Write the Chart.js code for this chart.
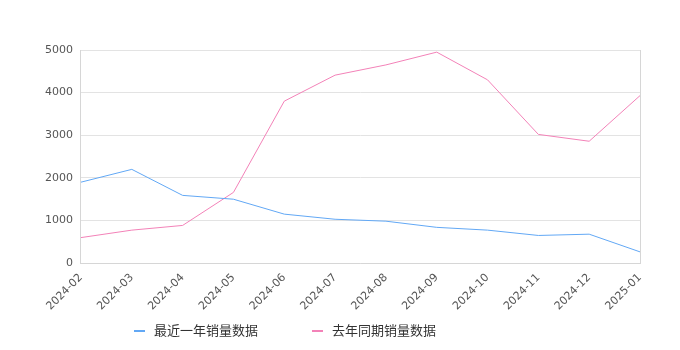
<!DOCTYPE html>
<html>
<head>
<meta charset="utf-8">
<script src="https://cdn.jsdelivr.net/npm/chart.js@4/dist/chart.umd.min.js"></script>
<style>
    html, body { margin: 0; padding: 0; background: #fff; }
    #wrap { width: 680px; height: 350px; }
</style>
</head>
<body>
<div id="wrap"><canvas id="salesChart"></canvas></div>
<script>
const months = ['2024-02', '2024-03', '2024-04', '2024-05', '2024-06', '2024-07', '2024-08', '2024-09', '2024-10', '2024-11', '2024-12', '2025-01'];
const recentSales = [1900, 2200, 1590, 1500, 1150, 1030, 985, 840, 775, 650, 680, 265];
const lastYearSales = [600, 775, 885, 1660, 3800, 4410, 4650, 4950, 4300, 3020, 2860, 3930];
const yTicks = [0, 1000, 2000, 3000, 4000, 5000];

const fontFamily = '"DejaVu Sans", "Noto Sans CJK SC", sans-serif';
const legendFont = '13px "Noto Sans CJK SC", sans-serif';

// legend drawn by hand: wide gap between items, short thick line marker
const bottomLegend = {
    id: 'bottomLegend',
    afterDraw(chart) {
        const ctx = chart.ctx;
        const y = 330;
        const gap = 54;
        const mark = 11;
        ctx.save();
        ctx.font = legendFont;
        const items = chart.data.datasets.map(ds => ({
            text: ds.label,
            color: ds.borderColor,
            w: mark + 9 + ctx.measureText(ds.label).width,
        }));
        let total = items.reduce((s, it) => s + it.w, 0) + gap * (items.length - 1);
        let x = (chart.width - total) / 2 - 55;
        items.forEach(it => {
            ctx.fillStyle = it.color;
            ctx.fillRect(x, y, mark, 2);
            ctx.fillStyle = '#333';
            ctx.textBaseline = 'middle';
            ctx.textAlign = 'left';
            ctx.fillText(it.text, x + mark + 9, y);
            x += it.w + gap;
        });
        ctx.restore();
    },
};

let chartConfig = {
    type: 'line',
    data: {
        labels: months,
        datasets: [],
    },
    options: {
        responsive: true,
        maintainAspectRatio: false,
        animation: false,
        layout: {
            padding: { top: 50, right: 40, left: 37, bottom: 29 },
        },
        plugins: {
            legend: { display: false },
            tooltip: { enabled: false },
        },
        scales: {
            x: {
                grid: {
                    drawTicks: false,
                    color: (c) => c.index === months.length - 1 ? '#d6d6d6' : 'rgba(0,0,0,0)',
                },
                border: { color: '#d6d6d6' },
                ticks: {
                    color: '#555',
                    maxRotation: 45,
                    minRotation: 45,
                    padding: 8,
                    font: { family: fontFamily, size: 11 },
                },
            },
            y: {
                min: 0,
                max: 5000,
                afterBuildTicks: (axis) => { axis.ticks = yTicks.map(v => ({ value: v })); },
                grid: { color: '#e3e3e3', drawTicks: false },
                border: { color: '#d6d6d6' },
                ticks: {
                    color: '#555',
                    padding: 8,
                    callback: (v) => String(v),
                    font: { family: fontFamily, size: 11 },
                },
            },
        },
    },
    plugins: [bottomLegend],
};

chartConfig.data.datasets.push({
    label: '最近一年销量数据',
    data: recentSales,
    borderColor: 'rgb(98, 168, 245)',
    borderWidth: 1,
    pointRadius: 0,
    tension: 0,
});
chartConfig.data.datasets.push({
    label: '去年同期销量数据',
    data: lastYearSales,
    borderColor: 'rgb(243, 130, 184)',
    borderWidth: 1,
    pointRadius: 0,
    tension: 0,
});

const salesChart = new Chart(document.getElementById('salesChart'), chartConfig);
</script>
</body>
</html>
